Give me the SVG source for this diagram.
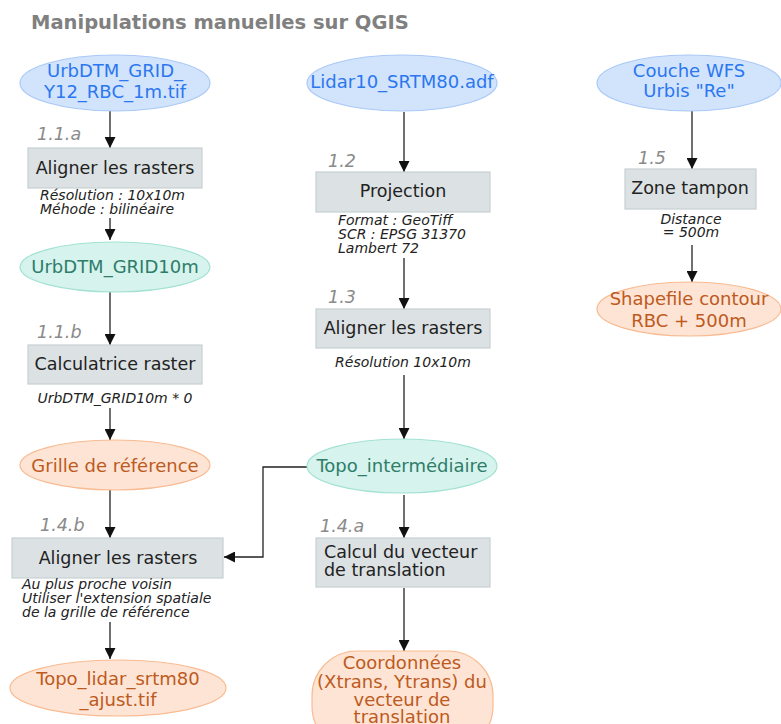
<svg xmlns="http://www.w3.org/2000/svg" width="781" height="724" viewBox="0 0 781 724">
<defs>
<marker id="ah" viewBox="0 0 10 10" refX="10" refY="5" markerWidth="11" markerHeight="11" markerUnits="userSpaceOnUse" orient="auto">
<path d="M0,0 L10,5 L0,10 z" fill="#111"/>
</marker>
<style>
text{font-family:"DejaVu Sans",sans-serif}
.title{font-size:19.5px;font-weight:bold;fill:#808080}
.blue ellipse{fill:#d2e3fc;stroke:#a9c9f7;stroke-width:1.2}
.blue text{fill:#2a77f0}
.teal ellipse{fill:#d6f3ed;stroke:#a3e2d3;stroke-width:1.2}
.teal text{fill:#2e7d69}
.orange ellipse,.orange rect{fill:#fde4d5;stroke:#f8bb92;stroke-width:1.2}
.orange text{fill:#bd5a20}
.node text{font-size:18px;text-anchor:middle}
.box rect{fill:#dce1e3;stroke:#c7d0d3;stroke-width:1.2}
.box text.t{fill:#222;font-size:17.5px;text-anchor:middle}
.step{fill:#8a8a8a;font-size:17.5px;font-style:italic}
.cap{fill:#222;font-size:14px;font-style:italic}
.capc{fill:#222;font-size:14px;font-style:italic;text-anchor:middle}
#edges path{fill:none;stroke:#222;stroke-width:1.3;marker-end:url(#ah)}
</style>
</defs>
<rect width="781" height="724" fill="#fff"/>
<text class="title" x="31" y="29">Manipulations manuelles sur QGIS</text>

<g id="edges">
<path d="M110,111 V148"/>
<path d="M110,218 V240"/>
<path d="M110,292 V345"/>
<path d="M110,408 V440"/>
<path d="M110,490 V538"/>
<path d="M110,622 V659"/>
<path d="M404,112 V172"/>
<path d="M404,258 V309"/>
<path d="M404,375 V439"/>
<path d="M307,467 H263 V557 H224"/>
<path d="M404,495 V538"/>
<path d="M404,588 V651"/>
<path d="M692,111 V169"/>
<path d="M692,245 V282"/>
</g>

<g id="n_urbdtm" class="node blue">
<ellipse cx="115" cy="83" rx="95" ry="28"/>
<text x="115" y="77">UrbDTM_GRID_</text>
<text x="115" y="98">Y12_RBC_1m.tif</text>
</g>
<g id="n_align1" class="box">
<text class="step" x="37" y="140">1.1.a</text>
<rect x="28" y="148" width="174" height="40"/>
<text class="t" x="115" y="174">Aligner les rasters</text>
<text class="cap" x="40" y="200">Résolution : 10x10m</text>
<text class="cap" x="40" y="214">Méhode : bilinéaire</text>
</g>
<g id="n_grid10" class="node teal">
<ellipse cx="115" cy="267" rx="95" ry="25"/>
<text x="115" y="273">UrbDTM_GRID10m</text>
</g>
<g id="n_calc" class="box">
<text class="step" x="37" y="338">1.1.b</text>
<rect x="28" y="345" width="174" height="39"/>
<text class="t" x="115" y="370">Calculatrice raster</text>
<text class="capc" x="115" y="403">UrbDTM_GRID10m * 0</text>
</g>
<g id="n_grille" class="node orange">
<ellipse cx="115" cy="465" rx="95" ry="25"/>
<text x="115" y="472">Grille de référence</text>
</g>
<g id="n_align4b" class="box">
<text class="step" x="40" y="531">1.4.b</text>
<rect x="12" y="538" width="211" height="40"/>
<text class="t" x="118" y="564">Aligner les rasters</text>
<text class="cap" x="22" y="589">Au plus proche voisin</text>
<text class="cap" x="22" y="603">Utiliser l'extension spatiale</text>
<text class="cap" x="22" y="617">de la grille de référence</text>
</g>
<g id="n_topolidar" class="node orange">
<ellipse cx="118" cy="688" rx="108" ry="28"/>
<text x="118" y="685">Topo_lidar_srtm80</text>
<text x="118" y="706">_ajust.tif</text>
</g>

<g id="n_lidar" class="node blue">
<ellipse cx="402" cy="83" rx="95" ry="28"/>
<text x="402" y="88">Lidar10_SRTM80.adf</text>
</g>
<g id="n_proj" class="box">
<text class="step" x="328" y="167">1.2</text>
<rect x="316" y="172" width="174" height="40"/>
<text class="t" x="403" y="197">Projection</text>
<text class="cap" x="338" y="225">Format : GeoTiff</text>
<text class="cap" x="338" y="239">SCR : EPSG 31370</text>
<text class="cap" x="338" y="253">Lambert 72</text>
</g>
<g id="n_align3" class="box">
<text class="step" x="328" y="303">1.3</text>
<rect x="316" y="309" width="174" height="39"/>
<text class="t" x="403" y="334">Aligner les rasters</text>
<text class="capc" x="403" y="367">Résolution 10x10m</text>
</g>
<g id="n_topoint" class="node teal">
<ellipse cx="402" cy="466" rx="95" ry="27"/>
<text x="402" y="472">Topo_intermédiaire</text>
</g>
<g id="n_calcvec" class="box">
<text class="step" x="320" y="532">1.4.a</text>
<rect x="316" y="538" width="174" height="49"/>
<text class="t" x="324" y="558" style="text-anchor:start">Calcul du vecteur</text>
<text class="t" x="324" y="576" style="text-anchor:start">de translation</text>
</g>
<g id="n_coord" class="node orange">
<rect x="312" y="651" width="181" height="100" rx="45" ry="45"/>
<text x="402" y="669">Coordonnées</text>
<text x="402" y="688">(Xtrans, Ytrans) du</text>
<text x="402" y="706">vecteur de</text>
<text x="402" y="723">translation</text>
</g>

<g id="n_wfs" class="node blue">
<ellipse cx="689" cy="83" rx="92" ry="28"/>
<text x="689" y="77">Couche WFS</text>
<text x="689" y="97">Urbis "Re"</text>
</g>
<g id="n_zone" class="box">
<text class="step" x="638" y="164">1.5</text>
<rect x="625" y="169" width="131" height="40"/>
<text class="t" x="690" y="194">Zone tampon</text>
<text class="capc" x="691" y="224">Distance</text>
<text class="capc" x="691" y="237">= 500m</text>
</g>
<g id="n_shape" class="node orange">
<ellipse cx="689" cy="309" rx="92" ry="27"/>
<text x="689" y="305">Shapefile contour</text>
<text x="689" y="327">RBC + 500m</text>
</g>
</svg>
